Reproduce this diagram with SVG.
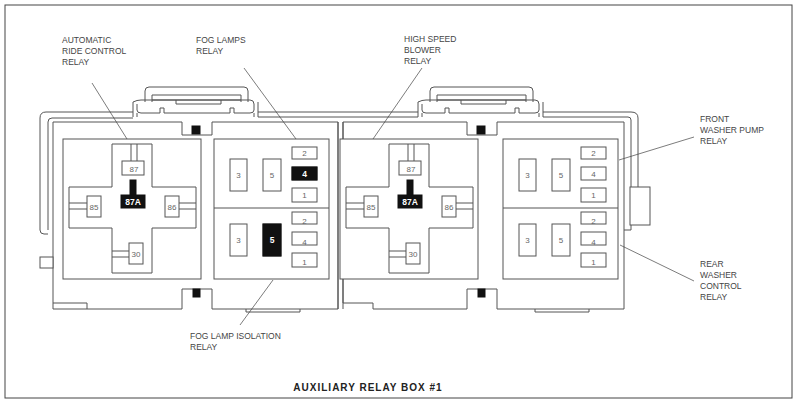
<svg xmlns="http://www.w3.org/2000/svg" width="800" height="403" viewBox="0 0 800 403">
<style>
.s{fill:none;stroke:#555;stroke-width:1}
.w{fill:#fff;stroke:#555;stroke-width:1}
.b{fill:#111;stroke:#111}
.t{font-family:"Liberation Sans",Arial,sans-serif;font-size:8.5px;fill:#444}
.p{font-family:"Liberation Sans",Arial,sans-serif;font-size:8px;fill:#666;text-anchor:middle}
.pw{font-family:"Liberation Sans",Arial,sans-serif;font-size:8.5px;font-weight:bold;fill:#fff;text-anchor:middle}
.l{fill:none;stroke:#444;stroke-width:0.7}
</style>
<defs>
<g id="clip">
<path class="s" d="M145,102 V91 Q145,87 149,87 H244 Q248,87 248,91 V102"/>
<path class="s" d="M152,102 V95 H241 V102 M152,100 H241 M176,100 V104 H221 V100"/>
<path class="s" d="M133,102 Q137,100 141,100 H250 Q254,100 254,104 V110 Q254,113 250,113 H234 V108 H230 V113 H164 V108 H160 V113 H141 Q137,113 137,110 V104"/>
<path class="s" d="M133,102 V117 M258,102 V117 M137,113 V117 M254,113 V117"/>
</g>
<g id="relay">
<rect class="w" x="0" y="0" width="138" height="140"/>
<path class="s" d="M49,5 H89 V48 H133 V89 H89 V134 H49 V89 H6 V48 H49 Z"/>
<path class="s" d="M68,5 V22 M74,5 V22 M6,64 H24 M6,70 H24 M116,64 H133 M116,70 H133 M49,112 H66 M49,118 H66"/>
<rect class="w" x="59" y="22" width="22" height="14"/><text class="p" x="71" y="33">87</text>
<rect class="b" x="67" y="41" width="6" height="15"/>
<rect class="b" x="58" y="56" width="24" height="13"/><text class="pw" x="70" y="66">87A</text>
<rect class="w" x="24" y="57" width="14" height="21"/><text class="p" x="31" y="71">85</text>
<rect class="w" x="102" y="57" width="14" height="21"/><text class="p" x="109" y="71">86</text>
<rect class="w" x="66" y="104" width="14" height="21"/><text class="p" x="73" y="118">30</text>
</g>
<g id="half">
<rect class="w" x="16" y="0" width="17" height="32"/>
<rect class="w" x="49" y="0" width="18" height="32"/>
<rect class="w" x="78" y="-12" width="25" height="12"/>
<rect class="w" x="78" y="8" width="25" height="13"/>
<rect class="w" x="78" y="29" width="25" height="14"/>
</g>
</defs>

<rect x="5" y="5" width="787" height="393" fill="none" stroke="#444"/>

<g id="housing">
<path class="s" d="M53,122 H182 V135 H212 V122 H338 V309 H212 V289 H182 V309 H87 V303 H53 Z"/>
<path class="s" d="M343,122 H467 V135 H497 V122 H624 V309 H497 V289 H467 V309 H373 V303 H343 Z"/>
<path class="s" d="M53,303 V309 H87 M338,122 V309 M343,122 V309"/>
<path class="s" d="M246,309 V312 H300 V309 M535,309 V312 H589 V309"/>
<path class="s" d="M48,230 V122 Q48,118 52,118 H133 M40,230 V118 Q40,112 46,112 H133 M40,230 Q40,234 44,234 H48"/>
<path class="s" d="M258,112 H418 M258,117 H418 M543,112 H631 Q638,112 638,118 V187 M543,117 H628 Q631,117 631,120 V187 M631,225 V230 H624"/>
<rect class="w" x="630" y="187" width="20" height="38"/>
<rect class="w" x="40" y="257" width="13" height="11"/>
<use href="#clip"/>
<use href="#clip" x="285"/>
<rect class="b" x="192" y="126" width="8" height="8"/>
<rect class="b" x="477" y="126" width="8" height="8"/>
<rect class="b" x="193" y="289" width="7" height="8"/>
<rect class="b" x="478" y="289" width="7" height="8"/>
</g>

<g id="relay-arc"><use href="#relay" x="63" y="139"/></g>
<g id="relay-blower"><use href="#relay" x="340" y="139"/></g>

<g id="fog-block">
<rect class="w" x="214" y="139" width="115" height="140"/>
<line class="s" x1="214" y1="208" x2="329" y2="208"/>
<use href="#half" x="214" y="159"/>
<use href="#half" x="214" y="224"/>
<rect class="b" x="292" y="167" width="25" height="13"/>
<rect class="b" x="263" y="224" width="18" height="32"/>
<text class="p" x="238.5" y="178">3</text><text class="p" x="272" y="178">5</text>
<text class="p" x="304.5" y="156">2</text><text class="pw" x="304.5" y="177">4</text><text class="p" x="304.5" y="198">1</text>
<text class="p" x="238.5" y="243">3</text><text class="pw" x="272" y="243">5</text>
<text class="p" x="304.5" y="224">2</text><text class="p" x="304.5" y="245">4</text><text class="p" x="304.5" y="265">1</text>
</g>

<g id="washer-block">
<rect class="w" x="503" y="139" width="115" height="140"/>
<line class="s" x1="503" y1="208" x2="618" y2="208"/>
<use href="#half" x="503" y="159"/>
<use href="#half" x="503" y="224"/>
<text class="p" x="527.5" y="178">3</text><text class="p" x="561" y="178">5</text>
<text class="p" x="593.5" y="156">2</text><text class="p" x="593.5" y="177">4</text><text class="p" x="593.5" y="198">1</text>
<text class="p" x="527.5" y="243">3</text><text class="p" x="561" y="243">5</text>
<text class="p" x="593.5" y="224">2</text><text class="p" x="593.5" y="245">4</text><text class="p" x="593.5" y="265">1</text>
</g>

<g id="connectors">
<line class="l" x1="92" y1="83" x2="127" y2="139"/>
<line class="l" x1="244" y1="68" x2="296" y2="139"/>
<line class="l" x1="422" y1="68" x2="373" y2="139"/>
<line class="l" x1="694" y1="137" x2="619" y2="160"/>
<line class="l" x1="694" y1="281" x2="620" y2="245"/>
<line class="l" x1="273" y1="280" x2="240" y2="325"/>
</g>

<g id="labels">
<text class="t" x="62" y="43">AUTOMATIC</text><text class="t" x="62" y="54">RIDE CONTROL</text><text class="t" x="62" y="65">RELAY</text>
<text class="t" x="196" y="43">FOG LAMPS</text><text class="t" x="196" y="54">RELAY</text>
<text class="t" x="404" y="42">HIGH SPEED</text><text class="t" x="404" y="53">BLOWER</text><text class="t" x="404" y="64">RELAY</text>
<text class="t" x="700" y="122">FRONT</text><text class="t" x="700" y="133">WASHER PUMP</text><text class="t" x="700" y="144">RELAY</text>
<text class="t" x="700" y="267">REAR</text><text class="t" x="700" y="278">WASHER</text><text class="t" x="700" y="289">CONTROL</text><text class="t" x="700" y="300">RELAY</text>
<text class="t" x="190" y="339">FOG LAMP ISOLATION</text><text class="t" x="190" y="350">RELAY</text>
<text x="368" y="391" text-anchor="middle" font-family="Liberation Sans,Arial,sans-serif" font-size="10" font-weight="bold" letter-spacing="1" fill="#222">AUXILIARY RELAY BOX #1</text>
</g>
</svg>
